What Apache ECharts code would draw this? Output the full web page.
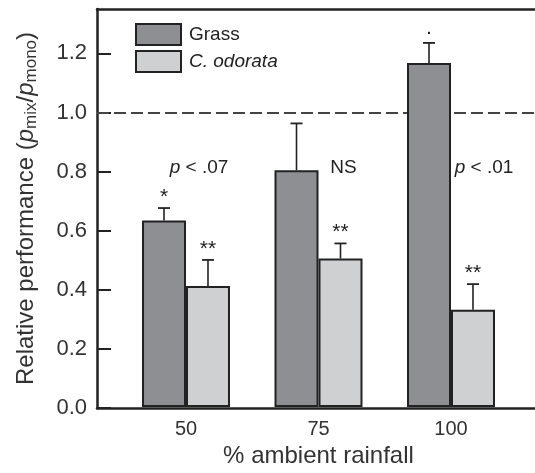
<!DOCTYPE html>
<html>
<head>
<meta charset="utf-8">
<script src="https://cdn.jsdelivr.net/npm/echarts@6/dist/echarts.min.js"></script>
<style>html,body{margin:0;padding:0;background:#fff;}#c{width:535px;height:473px;}</style>
</head>
<body>
<div id="c"></div>
<script>
// ---- data ----
const categories = ['50', '75', '100'];
const grassMean = [0.633, 0.803, 1.167];
const grassSE = [0.042, 0.159, 0.068];
const odorataMean = [0.411, 0.504, 0.330];
const odorataSE = [0.088, 0.051, 0.087];
const grassSig = ['*', '', '\u00b7'];
const odorataSig = ['**', '**', '**'];
const contrastLabels = ['{i|p} < .07', 'NS', '{i|p} < .01'];
const contrastValue = 0.813;
const yTickValues = [0, 0.2, 0.4, 0.6, 0.8, 1.0, 1.2];
const referenceLine = 1.0;

// ---- layout/style ----
const FONT = '"Liberation Sans", Arial, Helvetica, sans-serif';
const BAR_FRAC = 0.332;
const INK = '#222';
const GRASS_COLOR = '#8e8f93';
const ODORATA_COLOR = '#cfd0d2';
const contrastOffsets = [13, 25, 33];

const chart = echarts.init(document.getElementById('c'), null, {renderer: 'canvas'});

function errorSeries(means, ses, sigs, side) {
  return {
    type: 'custom',
    xAxisIndex: 2, yAxisIndex: 1,
    z: 6, silent: true,
    data: means.map((m, i) => [i, m, m + ses[i]]),
    renderItem: function (params, api) {
      const i = api.value(0);
      const base = api.coord([i, 0]);
      const band = api.size([1, 0])[0];
      const cx = base[0] + side * band * BAR_FRAC / 2;
      const yBar = api.coord([i, api.value(1)])[1];
      const yTop = api.coord([i, api.value(2)])[1];
      const sig = sigs[params.dataIndex];
      const children = [
        {type: 'line', shape: {x1: cx, y1: yBar, x2: cx, y2: yTop}, style: {stroke: INK, lineWidth: 1.6}},
        {type: 'line', shape: {x1: cx - 6, y1: yTop, x2: cx + 6, y2: yTop}, style: {stroke: INK, lineWidth: 1.8}}
      ];
      if (sig) {
        children.push({type: 'text', x: cx, y: yTop - 11,
          style: {text: sig, fill: INK, font: '21px ' + FONT, align: 'center', verticalAlign: 'middle'}});
      }
      return {type: 'group', children: children};
    }
  };
}

const option = {
  backgroundColor: '#fff',
  animation: false,
  textStyle: {fontFamily: FONT},
  grid: [
    {left: 97, right: -10, top: 9, bottom: 65},
    {left: 119.75, right: 17.75, top: 9, bottom: 65}
  ],
  legend: {
    data: ['Grass', 'C. odorata'],
    orient: 'vertical',
    left: 135, top: 23, padding: 0,
    itemWidth: 45, itemHeight: 21, itemGap: 4,
    icon: 'rect',
    selectedMode: false,
    formatter: function (name) { return name === 'Grass' ? name : '{i|' + name + '}'; },
    textStyle: {fontSize: 19, color: INK, fontFamily: FONT, padding: [0, 0, 0, 3],
      rich: {i: {fontStyle: 'italic', fontSize: 19, color: INK, fontFamily: FONT}}}
  },
  xAxis: [
    {type: 'value', gridIndex: 0, min: 0, max: 1, position: 'bottom',
      axisLine: {show: true, onZero: false, lineStyle: {color: INK, width: 2.5}},
      axisTick: {show: false}, axisLabel: {show: false}, splitLine: {show: false}},
    {type: 'value', gridIndex: 0, min: 0, max: 1, position: 'top',
      axisLine: {show: true, onZero: false, lineStyle: {color: INK, width: 2.5}},
      axisTick: {show: false}, axisLabel: {show: false}, splitLine: {show: false}},
    {type: 'category', gridIndex: 1, data: categories, position: 'bottom',
      axisLine: {show: false}, axisTick: {show: false}, splitLine: {show: false},
      axisLabel: {fontSize: 20, color: '#333', margin: 12, fontFamily: FONT},
      name: '% ambient rainfall', nameLocation: 'middle', nameGap: 36,
      nameTextStyle: {fontSize: 24, color: '#333', fontFamily: FONT}}
  ],
  yAxis: [
    {type: 'value', gridIndex: 0, min: 0, max: 1.35,
      axisLine: {show: true, onZero: false, lineStyle: {color: INK, width: 2.5}},
      axisTick: {show: true, inside: true, length: 14, lineStyle: {color: INK, width: 2}, customValues: yTickValues},
      axisLabel: {fontSize: 22, color: '#333', margin: 10, fontFamily: FONT, customValues: yTickValues,
        formatter: function (v) { return v.toFixed(1); }},
      splitLine: {show: false},
      name: '{n|Relative performance (}{i|p}{s|mix}{n|/}{i|p}{s|mono}{n|)}',
      nameLocation: 'middle', nameGap: 57,
      nameTextStyle: {color: '#333', rich: {
        n: {fontSize: 24, fontFamily: FONT, color: '#333', lineHeight: 28, verticalAlign: 'middle'},
        i: {fontSize: 24, fontFamily: FONT, color: '#333', fontStyle: 'italic', lineHeight: 28, verticalAlign: 'middle'},
        s: {fontSize: 17, fontFamily: FONT, color: '#333', lineHeight: 14, verticalAlign: 'bottom'}
      }}},
    {type: 'value', gridIndex: 1, min: 0, max: 1.35, show: false}
  ],
  series: [
    {type: 'line', xAxisIndex: 0, yAxisIndex: 0, data: [], z: 1, silent: true,
      markLine: {silent: true, symbol: ['none', 'none'], z: 1, label: {show: false},
        lineStyle: {color: '#444', width: 2, type: [12, 5]},
        data: [{yAxis: referenceLine}]}},
    {name: 'Grass', type: 'bar', xAxisIndex: 2, yAxisIndex: 1, data: grassMean, z: 3,
      barWidth: (BAR_FRAC * 100) + '%', barGap: '0%',
      itemStyle: {color: GRASS_COLOR, borderColor: INK, borderWidth: 2}},
    {name: 'C. odorata', type: 'bar', xAxisIndex: 2, yAxisIndex: 1, data: odorataMean, z: 3,
      barWidth: (BAR_FRAC * 100) + '%', barGap: '0%',
      itemStyle: {color: ODORATA_COLOR, borderColor: INK, borderWidth: 2}},
    errorSeries(grassMean, grassSE, grassSig, -1),
    errorSeries(odorataMean, odorataSE, odorataSig, 1),
    {type: 'custom', xAxisIndex: 2, yAxisIndex: 1, z: 6, silent: true,
      data: categories.map((c, i) => [i, contrastValue]),
      renderItem: function (params, api) {
        const p = api.coord([api.value(0), api.value(1)]);
        return {type: 'text', x: p[0] + contrastOffsets[params.dataIndex], y: p[1],
          style: {text: contrastLabels[params.dataIndex], fill: INK, font: '19px ' + FONT,
            align: 'center', verticalAlign: 'middle',
            rich: {i: {fontStyle: 'italic', fontSize: 19, fontFamily: FONT, fill: INK}}}};
      }}
  ]
};
chart.setOption(option);
</script>
</body>
</html>
